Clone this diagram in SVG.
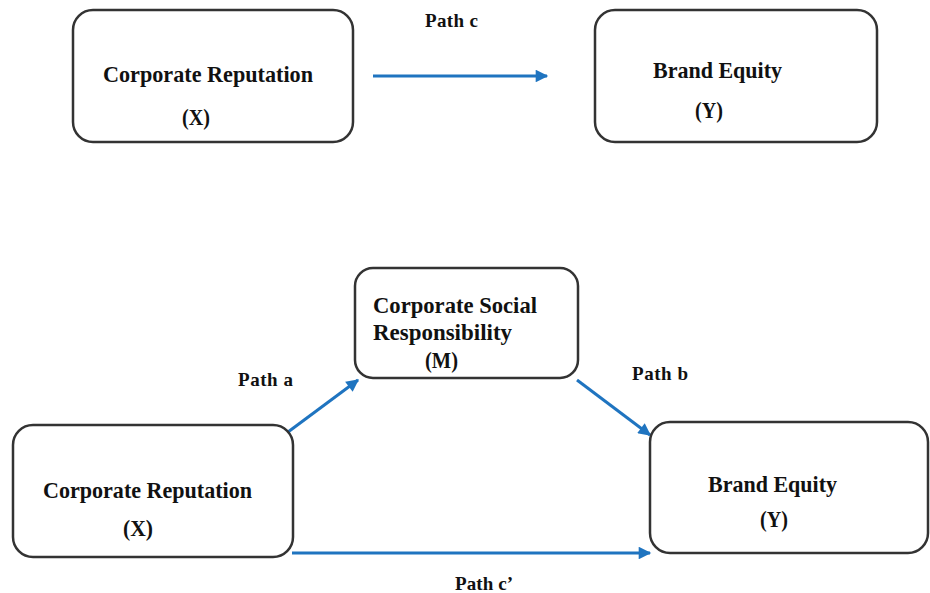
<svg xmlns="http://www.w3.org/2000/svg" width="930" height="593" viewBox="0 0 930 593">
<defs>
<style>
.box{fill:#fff;stroke:#333;stroke-width:2.5}
.t{font-family:"Liberation Serif","Times New Roman",serif;font-weight:bold;font-size:24px;fill:#111}
.l{font-family:"Liberation Serif","Times New Roman",serif;font-weight:bold;font-size:19px;fill:#111}
.c{stroke:#1f74c0;stroke-width:3;fill:none;marker-end:url(#ah)}
</style>
<marker id="ah" viewBox="0 0 10 10" refX="9" refY="5" markerWidth="4.5" markerHeight="4.2" orient="auto" markerUnits="strokeWidth">
<path d="M0,0 L10,5 L0,10 Z" fill="#1f74c0"/>
</marker>
</defs>
<rect width="930" height="593" fill="#fff"/>
<g id="connectors">
<line class="c" x1="373" y1="76" x2="547" y2="76"/>
<line class="c" x1="288" y1="432" x2="358" y2="380"/>
<line class="c" x1="577" y1="380" x2="650" y2="435"/>
<line class="c" x1="292" y1="553" x2="650" y2="553"/>
<text class="l" x="425" y="27" textLength="53">Path c</text>
<text class="l" x="238" y="386" textLength="55">Path a</text>
<text class="l" x="632" y="380" textLength="56">Path b</text>
<text class="l" x="455" y="590" textLength="58">Path c’</text>
</g>
<g id="node-x-top">
<rect class="box" x="73" y="10" width="280" height="132" rx="20"/>
<text class="t" x="103" y="82" textLength="210" lengthAdjust="spacingAndGlyphs">Corporate Reputation</text>
<text class="t" x="182" y="125" textLength="28" lengthAdjust="spacingAndGlyphs">(X)</text>
</g>
<g id="node-y-top">
<rect class="box" x="595" y="10" width="282" height="132" rx="20"/>
<text class="t" x="653" y="78" textLength="129" lengthAdjust="spacingAndGlyphs">Brand Equity</text>
<text class="t" x="695" y="118" textLength="28" lengthAdjust="spacingAndGlyphs">(Y)</text>
</g>
<g id="node-m">
<rect class="box" x="355" y="268" width="223" height="110" rx="18"/>
<text class="t" x="373" y="313" textLength="164" lengthAdjust="spacingAndGlyphs">Corporate Social</text>
<text class="t" x="373" y="340" textLength="139" lengthAdjust="spacingAndGlyphs">Responsibility</text>
<text class="t" x="425" y="368" textLength="33" lengthAdjust="spacingAndGlyphs">(M)</text>
</g>
<g id="node-x-bottom">
<rect class="box" x="13" y="425" width="280" height="132" rx="20"/>
<text class="t" x="43" y="498" textLength="209" lengthAdjust="spacingAndGlyphs">Corporate Reputation</text>
<text class="t" x="123" y="536" textLength="30" lengthAdjust="spacingAndGlyphs">(X)</text>
</g>
<g id="node-y-bottom">
<rect class="box" x="650" y="422" width="278" height="131" rx="20"/>
<text class="t" x="708" y="492" textLength="129" lengthAdjust="spacingAndGlyphs">Brand Equity</text>
<text class="t" x="760" y="527" textLength="28" lengthAdjust="spacingAndGlyphs">(Y)</text>
</g>
</svg>
